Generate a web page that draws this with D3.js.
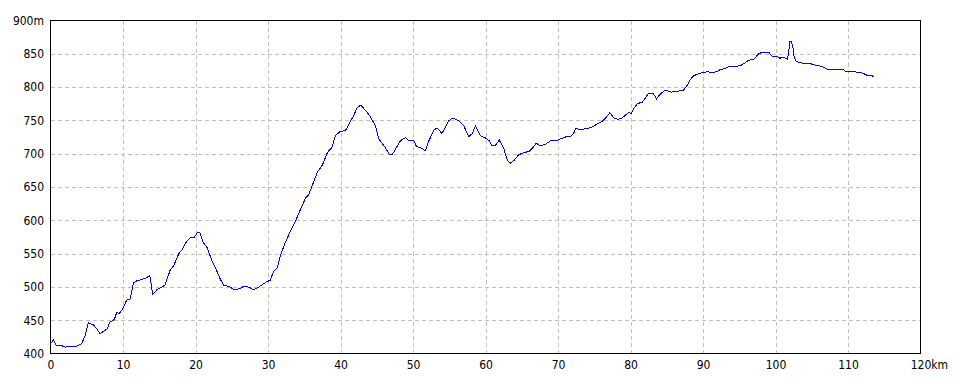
<!DOCTYPE html>
<html>
<head>
<meta charset="utf-8">
<script src="https://cdn.jsdelivr.net/npm/d3@7"></script>
<style>
  body { margin: 0; background: #fff; }
  .tick text { font-family: "Liberation Sans Narrow", "DejaVu Sans Condensed", "Liberation Sans", sans-serif; font-size: 12px; fill: #000; }
</style>
</head>
<body>
<div id="chart-area"></div>
<script>

// SVG Size
var width = 960,
		height = 384;

// Profile data (distance in km, elevation in m)
var distanceKm = [0, 0.4, 0.8, 1.6, 2.0, 2.6, 3.4, 3.9, 4.3, 4.8, 5.2, 5.9, 6.4, 6.8, 7.3, 7.8, 8.2, 8.8, 9.15, 9.5,
	9.9, 10.5, 11.0, 11.45, 11.9, 12.6, 13.1, 13.7, 14.1, 14.7, 15.4, 15.8, 16.5, 17.0, 17.7, 18.1, 18.7, 19.3, 19.8, 20.3,
	20.6, 21.1, 21.6, 22.25, 22.9, 23.4, 23.9, 24.6, 25.3, 26.0, 26.7, 27.4, 28.05, 28.9, 29.7, 30.3, 30.8, 31.3, 31.7, 32.4,
	33.1, 33.8, 34.5, 35.2, 35.6, 36.1, 36.8, 37.5, 38.2, 38.8, 39.3, 39.9, 40.7, 41.15, 41.8, 42.3, 42.8, 43.45, 44.1, 44.8,
	45.3, 46.0, 46.7, 47.1, 47.6, 48.3, 49.0, 49.4, 50.1, 50.5, 51.0, 51.7, 52.2, 52.9, 53.3, 54.0, 54.25, 54.9, 55.5, 56.3,
	57.0, 57.7, 58.2, 58.6, 59.3, 60.0, 60.5, 60.9, 61.4, 61.9, 62.5, 63.0, 63.4, 63.9, 64.6, 65.3, 66.0, 66.4, 67.0, 67.6,
	68.3, 69.0, 69.7, 70.3, 71.0, 71.7, 72.1, 72.5, 73.0, 73.6, 74.25, 74.8, 75.4, 76.1, 76.55, 77.15, 77.7, 78.25, 78.85, 79.3,
	79.8, 80.1, 80.55, 81.0, 81.6, 82.1, 82.5, 83.1, 83.6, 84.1, 84.8, 85.6, 86.4, 87.3, 87.7, 88.2, 88.7, 89.3, 89.9, 90.6,
	91.3, 92.0, 92.4, 93.1, 93.6, 94.25, 95.2, 95.9, 96.3, 97.0, 97.7, 98.4, 99.1, 99.3, 99.7, 100.1, 100.6, 101.1, 101.6, 101.8,
	102.0, 102.2, 102.4, 102.55, 102.7, 102.85, 103.2, 103.7, 104.7, 105.5, 106.1, 106.7, 107.1, 109.3, 109.8, 111.7, 112.2, 112.6, 113.2, 113.6];

var elevationM = [415, 420, 412, 411.5, 409.5, 410.5, 410, 412.5, 415, 427, 446, 443, 437, 430, 433, 437, 447, 451, 462, 460,
	466, 480, 482, 506, 509, 511, 513, 517, 489, 496, 500, 503, 525, 532, 550, 555, 567, 574, 574, 582,
	581, 566, 559, 540, 525, 512, 502, 501, 496, 497, 501, 499.5, 495.5, 501, 507, 510, 524, 529, 547, 567,
	584, 599, 617, 634, 638, 652, 672, 683, 702, 709, 727, 733, 735, 744, 757, 769, 773, 765, 756, 742,
	722, 712, 699.5, 698, 707, 720, 724, 720, 719.5, 710.5, 709.5, 704.5, 719.5, 735.5, 738.5, 730.5, 735.5, 749.5, 753.5, 749.5,
	742, 725.5, 730.5, 742, 727, 723.5, 719.5, 712, 713, 720.5, 708.5, 690.5, 685.5, 689.5, 698.5, 701.5, 703.5, 707.5, 715.5, 712,
	714.5, 719.5, 719.5, 722, 725, 726, 729.5, 738.5, 736, 737, 738.5, 740.5, 744.5, 748.5, 753.5, 761.5, 753.5, 751.5, 753.5, 758,
	762, 760.5, 769.5, 775.5, 777, 784.5, 790.5, 791, 782.5, 789.5, 795.5, 792.5, 793.5, 795.5, 800.5, 810.5, 817, 819.5, 822, 823,
	822, 823.5, 826.5, 828, 831, 830.5, 832.5, 837, 840.5, 841.5, 850.5, 852.5, 852.5, 848.5, 845.5, 846.5, 843.5, 844.5, 842, 850.5,
	869, 868.5, 859.5, 847, 842, 839, 837.5, 836, 835.5, 833, 832, 829.5, 827, 826.5, 823, 822.5, 820, 818, 818, 815];

// Tick values
var xTicks = [0, 10, 20, 30, 40, 50, 60, 70, 80, 90, 100, 110, 120];
var yTicks = [400, 450, 500, 550, 600, 650, 700, 750, 800, 850, 900];

var data = distanceKm.map(function(d, i) {
	return { km: d, m: elevationM[i] };
});

// Append a new SVG area
var svg = d3.select("#chart-area").append("svg")
		.attr("width", width)
		.attr("height", height);

// Plot box
var plotLeft = 50.5, plotRight = 920.5, plotTop = 20.5, plotBottom = 353.5;

// X scale
var xScale = d3.scaleLinear()
	.domain([0, 120])
	.range([plotLeft, plotRight]);

// Y scale
var yScale = d3.scaleLinear()
	.domain([400, 900])
	.range([plotBottom, plotTop]);

// Grid lines
svg.append("g")
	.selectAll("line")
	.data(xTicks.slice(1, -1))
	.enter()
	.append("line")
	.attr("x1", function(d){ return Math.round(xScale(d)) + 0.5; })
	.attr("x2", function(d){ return Math.round(xScale(d)) + 0.5; })
	.attr("y1", plotTop)
	.attr("y2", plotBottom)
	.attr("stroke", "#c0c0c0")
	.attr("stroke-dasharray", "4,3")
	.attr("shape-rendering", "crispEdges");

svg.append("g")
	.selectAll("line")
	.data(yTicks.slice(1, -1))
	.enter()
	.append("line")
	.attr("x1", plotLeft)
	.attr("x2", plotRight)
	.attr("y1", function(d){ return Math.round(yScale(d)) + 0.5; })
	.attr("y2", function(d){ return Math.round(yScale(d)) + 0.5; })
	.attr("stroke", "#c0c0c0")
	.attr("stroke-dasharray", "4,3")
	.attr("shape-rendering", "crispEdges");

// Axes
var xAxis = d3.axisBottom(xScale)
	.tickValues(xTicks)
	.tickSize(0)
	.tickPadding(7)
	.tickFormat(function(d){ return d; });

var yAxis = d3.axisLeft(yScale)
	.tickValues(yTicks)
	.tickSize(0)
	.tickPadding(6)
	.tickFormat(function(d){ return d === 900 ? d + "m" : d; });

var gx = svg.append("g")
	.attr("transform", "translate(0," + plotBottom + ")")
	.call(xAxis);
gx.select(".domain").remove();

// "120km": number centred on the tick, unit trailing
var lastLabel = gx.selectAll(".tick text").filter(function(d){ return d === 120; });
var numWidth = lastLabel.node().getComputedTextLength();
lastLabel.attr("text-anchor", "start").attr("x", -numWidth / 2).text("120km");

var gy = svg.append("g")
	.attr("transform", "translate(" + (plotLeft - 0.5) + ",0)")
	.call(yAxis);
gy.select(".domain").remove();

// Frame
svg.append("rect")
	.attr("x", plotLeft)
	.attr("y", plotTop)
	.attr("width", plotRight - plotLeft)
	.attr("height", plotBottom - plotTop)
	.attr("fill", "none")
	.attr("stroke", "#000")
	.attr("shape-rendering", "crispEdges");

// Elevation line
var line = d3.line()
	.x(function(d){ return xScale(d.km); })
	.y(function(d){ return yScale(d.m); });

svg.append("path")
	.datum(data)
	.attr("d", line)
	.attr("fill", "none")
	.attr("stroke", "#0000ff")
	.attr("stroke-width", 1)
	.attr("shape-rendering", "crispEdges");

</script>
</body>
</html>
